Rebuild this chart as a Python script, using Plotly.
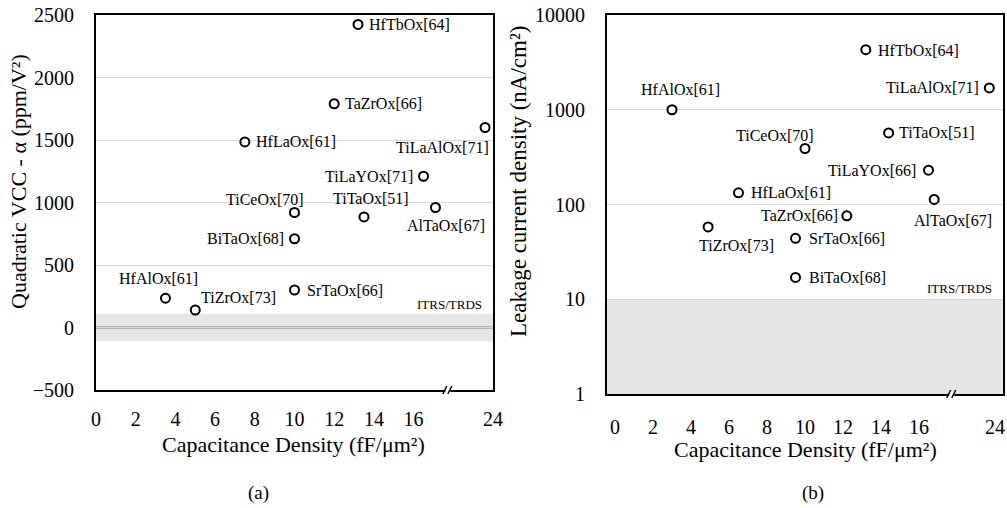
import math
import plotly.graph_objects as go

# ---------------------------------------------------------------------------
# Data
# ---------------------------------------------------------------------------
# (a) quadratic voltage coefficient of capacitance vs capacitance density
vcc_names = ["HfTbOx[64]", "TaZrOx[66]", "HfLaOx[61]", "TiLaAlOx[71]",
             "TiLaYOx[71]", "TiCeOx[70]", "TiTaOx[51]", "AlTaOx[67]",
             "BiTaOx[68]", "HfAlOx[61]", "TiZrOx[73]", "SrTaOx[66]"]
vcc_cap = [13.2, 12.0, 7.5, 23.6, 16.5, 10.0, 13.5, 17.1, 10.0, 3.5, 5.0, 10.0]
vcc_alpha = [2425, 1790, 1485, 1600, 1210, 920, 885, 960, 710, 235, 140, 300]

# (b) leakage current density vs capacitance density
leak_names = ["HfTbOx[64]", "HfAlOx[61]", "TiLaAlOx[71]", "TiCeOx[70]",
              "TiTaOx[51]", "TiLaYOx[66]", "HfLaOx[61]", "AlTaOx[67]",
              "TaZrOx[66]", "TiZrOx[73]", "SrTaOx[66]", "BiTaOx[68]"]
leak_cap = [13.2, 3.0, 23.7, 10.0, 14.4, 16.5, 6.5, 16.8, 12.2, 4.9, 9.5, 9.5]
leak_j = [4300, 1000, 1700, 390, 570, 230, 133, 113, 76, 58, 44, 17]

cap_ticks = [0, 2, 4, 6, 8, 10, 12, 14, 16, 24]
alpha_ticks = [-500, 0, 500, 1000, 1500, 2000, 2500]
leak_ticks = [1, 10, 100, 1000, 10000]

# ITRS/TRDS target regions
itrs_alpha = [-110, 110]
itrs_leak = [1, 10]

# ---------------------------------------------------------------------------
# Broken capacitance axis: values past the break are shifted left
# ---------------------------------------------------------------------------
BREAK_AT = 17.8
BREAK_SHIFT = 4


def axis_pos(c):
    return c - BREAK_SHIFT if c > BREAK_AT else c


# label placement: (xanchor, xshift px, yshift px)
vcc_place = {
    "HfTbOx[64]": ("left", 9, 0),
    "TaZrOx[66]": ("left", 9, 0),
    "HfLaOx[61]": ("left", 9, 0),
    "TiLaAlOx[71]": ("right", 6, -20),
    "TiLaYOx[71]": ("right", -9, 0),
    "TiCeOx[70]": ("right", 11, 13),
    "TiTaOx[51]": ("center", 7, 18),
    "AlTaOx[67]": ("center", 11, -18),
    "BiTaOx[68]": ("right", -9, 0),
    "HfAlOx[61]": ("center", -7, 20),
    "TiZrOx[73]": ("left", 4, 13),
    "SrTaOx[66]": ("left", 10, 0),
}
leak_place = {
    "HfTbOx[64]": ("left", 10, -1),
    "HfAlOx[61]": ("center", 9, 20),
    "TiLaAlOx[71]": ("right", -8, 0),
    "TiCeOx[70]": ("right", 11, 13),
    "TiTaOx[51]": ("left", 8, 0),
    "TiLaYOx[66]": ("right", -11, 0),
    "HfLaOx[61]": ("left", 11, 0),
    "AlTaOx[67]": ("center", 19, -21),
    "TaZrOx[66]": ("right", -7, 0),
    "TiZrOx[73]": ("center", 28, -19),
    "SrTaOx[66]": ("left", 11, 0),
    "BiTaOx[68]": ("left", 11, 0),
}

W, H = 1007, 508
FONT = "Liberation Serif, Times New Roman, serif"
INK = "#000000"
GRID = "#d9d9d9"
BAND = "#e6e6e6"


def px_x(p):
    return p / W


def px_y(p):
    return 1 - p / H


fig = go.Figure()

marker = dict(size=9, color="white", line=dict(color=INK, width=2), symbol="circle")

fig.add_trace(go.Scatter(
    x=[axis_pos(c) for c in vcc_cap], y=vcc_alpha, mode="markers",
    marker=marker, xaxis="x", yaxis="y", showlegend=False, hoverinfo="skip"))
fig.add_trace(go.Scatter(
    x=[axis_pos(c) for c in leak_cap], y=leak_j, mode="markers",
    marker=marker, xaxis="x2", yaxis="y2", showlegend=False, hoverinfo="skip"))

axis_common = dict(showline=True, mirror=True, linecolor=INK, linewidth=2,
                   ticks="", tickfont=dict(family=FONT, size=20, color=INK),
                   zeroline=False, automargin=False, ticklabeloverflow="allow")

fig.update_layout(
    template="none",
    width=W, height=H, autosize=False,
    margin=dict(l=0, r=0, t=0, b=0, pad=0),
    paper_bgcolor="white", plot_bgcolor="white",
    font=dict(family=FONT, color=INK),
    xaxis=dict(domain=[px_x(96), px_x(493)], range=[0, 20],
               tickvals=[axis_pos(t) for t in cap_ticks],
               ticktext=[str(t) for t in cap_ticks],
               showgrid=False, anchor="y", ticklabelstandoff=10, **axis_common),
    yaxis=dict(domain=[px_y(390), px_y(15)], range=[-500, 2500],
               tickvals=alpha_ticks, showgrid=True, gridcolor=GRID, gridwidth=1,
               anchor="x", ticklabelstandoff=16, **axis_common),
    xaxis2=dict(domain=[px_x(607), px_x(1003)], range=[-0.42, 20.42],
                tickvals=[axis_pos(t) for t in cap_ticks],
                ticktext=[str(t) for t in cap_ticks],
                showgrid=False, anchor="y2", ticklabelstandoff=14, **axis_common),
    yaxis2=dict(domain=[px_y(394), px_y(15)], type="log", range=[0, 4],
                tickvals=leak_ticks, ticktext=[str(t) for t in leak_ticks],
                showgrid=True, gridcolor=GRID, gridwidth=1,
                anchor="x2", ticklabelstandoff=16, **axis_common),
)

shapes = []
# ITRS/TRDS bands
shapes.append(dict(type="rect", xref="x domain", yref="y", x0=0, x1=1,
                   y0=itrs_alpha[0], y1=itrs_alpha[1], fillcolor=BAND,
                   line=dict(width=0), layer="below"))
shapes.append(dict(type="line", xref="x domain", yref="y", x0=0, x1=1,
                   y0=0, y1=0, line=dict(color="#808080", width=2), layer="below"))
shapes.append(dict(type="rect", xref="x2 domain", yref="y2", x0=0, x1=1,
                   y0=itrs_leak[0], y1=itrs_leak[1], fillcolor=BAND,
                   line=dict(width=0), layer="below"))

# axis-break marks on both bottom axes
for xr, ydom in (("x", "y domain"), ("x2", "y2 domain")):
    shapes.append(dict(type="line", xref=xr, yref=ydom, xsizemode="pixel",
                       ysizemode="pixel", xanchor=BREAK_AT, yanchor=0,
                       x0=-4, x1=1, y0=0, y1=0,
                       line=dict(color="white", width=4), layer="above"))
    for off in (-5, 0):
        shapes.append(dict(type="line", xref=xr, yref=ydom, xsizemode="pixel",
                           ysizemode="pixel", xanchor=BREAK_AT, yanchor=0,
                           x0=off - 1.5, x1=off + 2.5, y0=-4, y1=4,
                           line=dict(color=INK, width=1.5), layer="above"))
fig.update_layout(shapes=shapes)

ann = []
lab_font = dict(family=FONT, size=16, color=INK)
for n, c, v in zip(vcc_names, vcc_cap, vcc_alpha):
    xa, dx, dy = vcc_place[n]
    ann.append(dict(text=n, x=axis_pos(c), y=v, xref="x", yref="y",
                    xanchor=xa, yanchor="middle", xshift=dx, yshift=dy,
                    showarrow=False, font=lab_font))
for n, c, v in zip(leak_names, leak_cap, leak_j):
    xa, dx, dy = leak_place[n]
    ann.append(dict(text=n, x=axis_pos(c), y=math.log10(v), xref="x2", yref="y2",
                    xanchor=xa, yanchor="middle", xshift=dx, yshift=dy,
                    showarrow=False, font=lab_font))

small = dict(family=FONT, size=13, color=INK)
ann.append(dict(text="ITRS/TRDS", x=1, y=itrs_alpha[1], xref="x domain", yref="y",
                xanchor="right", yanchor="bottom", xshift=-9, yshift=0,
                showarrow=False, font=small))
ann.append(dict(text="ITRS/TRDS", x=1, y=math.log10(itrs_leak[1]), xref="x2 domain",
                yref="y2", xanchor="right", yanchor="bottom", xshift=-9, yshift=1,
                showarrow=False, font=small))

title_font = dict(family=FONT, size=22, color=INK)
ann.append(dict(text="Quadratic VCC - α (ppm/V²)", x=px_x(18), y=px_y(182),
                xref="paper", yref="paper", textangle=-90, showarrow=False,
                font=title_font, xanchor="center", yanchor="middle"))
ann.append(dict(text="Leakage current density (nA/cm²)", x=px_x(518), y=px_y(181),
                xref="paper", yref="paper", textangle=-90, showarrow=False,
                font=dict(family=FONT, size=23, color=INK),
                xanchor="center", yanchor="middle"))
ann.append(dict(text="Capacitance Density (fF/μm²)", x=px_x(293.5), y=px_y(444),
                xref="paper", yref="paper", showarrow=False, font=title_font,
                xanchor="center", yanchor="middle"))
ann.append(dict(text="Capacitance Density (fF/μm²)", x=px_x(805.5), y=px_y(449),
                xref="paper", yref="paper", showarrow=False, font=title_font,
                xanchor="center", yanchor="middle"))
ann.append(dict(text="(a)", x=px_x(258), y=px_y(493), xref="paper", yref="paper",
                showarrow=False, font=dict(family=FONT, size=19, color=INK),
                xanchor="center", yanchor="middle"))
ann.append(dict(text="(b)", x=px_x(813), y=px_y(493), xref="paper", yref="paper",
                showarrow=False, font=dict(family=FONT, size=19, color=INK),
                xanchor="center", yanchor="middle"))
fig.update_layout(annotations=ann)

fig.write_html("out.html")
